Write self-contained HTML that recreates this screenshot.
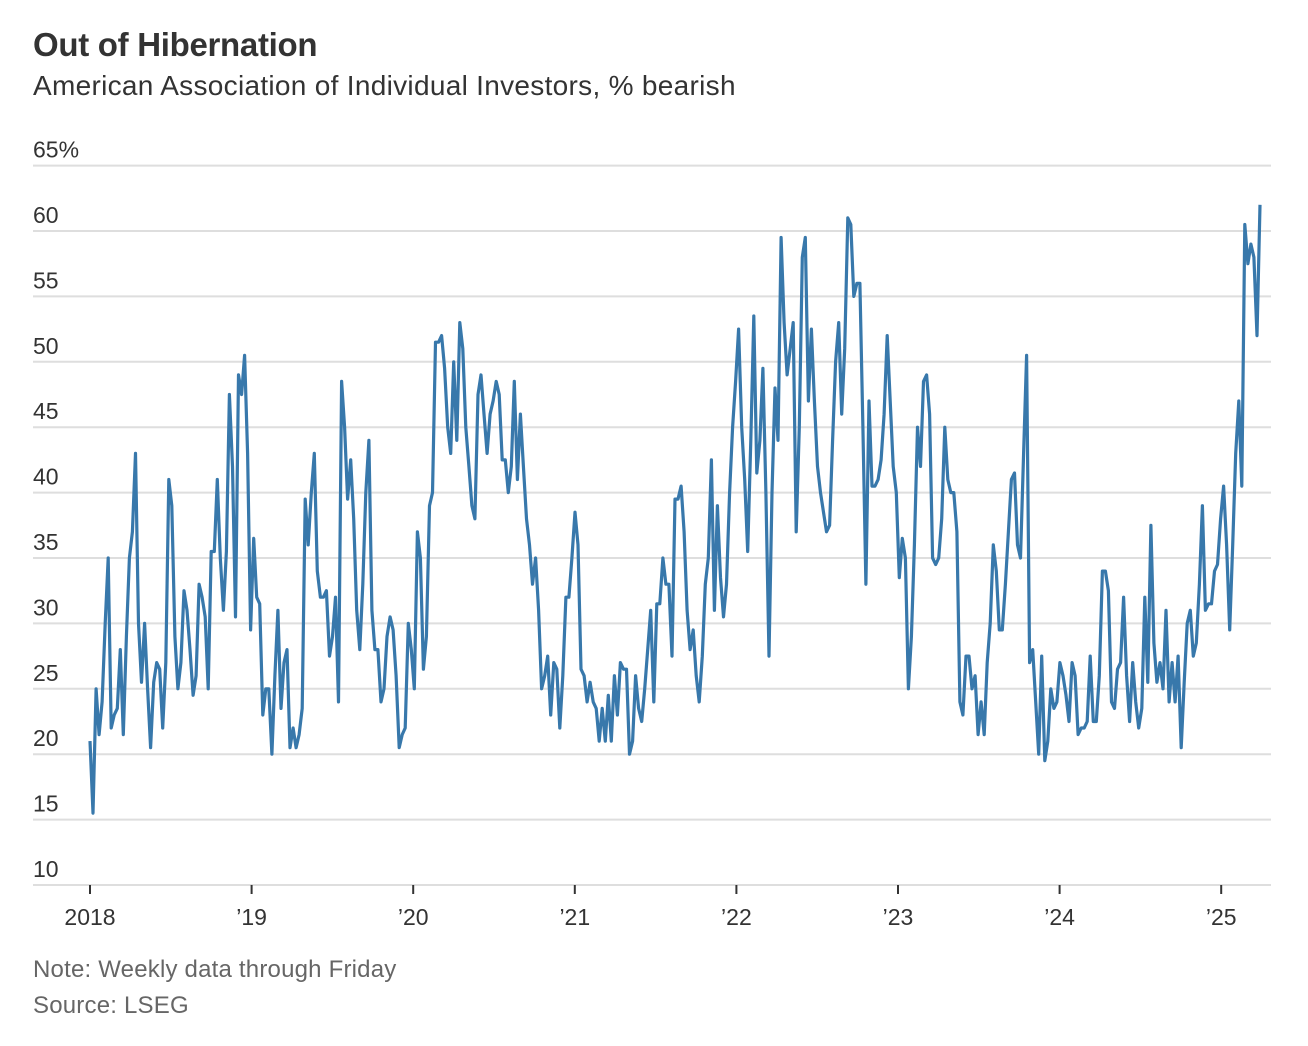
<!DOCTYPE html>
<html><head><meta charset="utf-8">
<style>
body{margin:0;background:#fff;font-family:"Liberation Sans",sans-serif;}
#wrap{position:relative;width:1308px;height:1046px;overflow:hidden;}
.t{position:absolute;left:33px;white-space:nowrap;}
</style></head><body>
<div id="wrap">
<div class="t" style="top:26px;font-size:33px;font-weight:bold;color:#333;letter-spacing:-0.3px;">Out of Hibernation</div>
<div class="t" style="top:70px;font-size:28px;color:#333;letter-spacing:0.3px;">American Association of Individual Investors, % bearish</div>
<svg id="chart" width="1308" height="950" style="position:absolute;left:0;top:0"></svg>
<div class="t" style="top:956px;font-size:24px;color:#666;letter-spacing:0.2px;">Note: Weekly data through Friday</div>
<div class="t" style="top:992px;font-size:24px;color:#666;letter-spacing:0.2px;">Source: LSEG</div>
</div>
<script>
const yTicks=[10,15,20,25,30,35,40,45,50,55,60,65];
const yTickLabels=["10","15","20","25","30","35","40","45","50","55","60","65%"];
const xTicks=[2018,2019,2020,2021,2022,2023,2024,2025];
const xTickLabels=["2018","\u201919","\u201920","\u201921","\u201922","\u201923","\u201924","\u201925"];
const startYear=2018.0, endYear=2025.24;
const values=[21,15.5,25,21.5,24,30,35,22,23,23.5,28,21.5,29,35,37,43,30,25.5,30,25,20.5,25.5,27,26.5,22,27,41,39,29,25,27,32.5,31,28,24.5,26,33,32,30.5,25,35.5,35.5,41,35,31,35.5,47.5,42,30.5,49,47.5,50.5,43,29.5,36.5,32,31.5,23,25,25,20,26,31,23.5,27,28,20.5,22,20.5,21.5,23.5,39.5,36,40,43,34,32,32,32.5,27.5,29,32,24,48.5,45,39.5,42.5,38,31,28,33,40,44,31,28,28,24,25,29,30.5,29.5,26,20.5,21.5,22,30,28,25,37,35,26.5,29,39,40,51.5,51.5,52,49.5,45,43,50,44,53,51,45,42,39,38,47.5,49,46,43,46,47,48.5,47.5,42.5,42.5,40,42,48.5,41,46,42,38,36,33,35,31,25,26,27.5,23,27,26.5,22,26,32,32,35,38.5,36,26.5,26,24,25.5,24,23.5,21,23.5,21,24.5,21,26,23,27,26.5,26.5,20,21,26,23.5,22.5,25,28,31,24,31.5,31.5,35,33,33,27.5,39.5,39.5,40.5,37,31,28,29.5,26,24,27.5,33,35,42.5,31,39,33.5,30.5,33,40,45,48.5,52.5,45,41,35.5,44,53.5,41.5,44,49.5,40,27.5,40,48,44,59.5,53,49,51,53,37,45,58,59.5,47,52.5,47,42,40,38.5,37,37.5,44,50,53,46,51,61,60.5,55,56,56,45,33,47,40.5,40.5,41,42.5,46,52,47,42,40,33.5,36.5,35,25,29,36,45,42,48.5,49,46,35,34.5,35,38,45,41,40,40,37,24,23,27.5,27.5,25,26,21.5,24,21.5,27,30,36,34,29.5,29.5,33,37,41,41.5,36,35,43,50.5,27,28,24,20,27.5,19.5,21,25,23.5,24,27,26,24.5,22.5,27,26,21.5,22,22,22.5,27.5,22.5,22.5,26,34,34,32.5,24,23.5,26.5,27,32,26,22.5,27,24,22,23.5,32,25.5,37.5,28.5,25.5,27,25,31,24,27,24,27.5,20.5,25.5,30,31,27.5,28.5,33,39,31,31.5,31.5,34,34.5,38,40.5,36,29.5,36,43,47,40.5,60.5,57.5,59,58,52,62];

const NS="http://www.w3.org/2000/svg";
const svg=document.getElementById('chart');
const x0=90, pxPerYear=161.6, yBase=885, pxPerUnit=65.4;
function xScale(yr){return x0+(yr-2018)*pxPerYear;}
function yScale(v){return yBase-(v-10)*pxPerUnit/5;}
function mk(tag,attrs){const e=document.createElementNS(NS,tag);for(const k in attrs)e.setAttribute(k,attrs[k]);svg.appendChild(e);return e;}

yTicks.forEach((v,i)=>{
  const y=yScale(v);
  const g=mk('line',{x1:33,x2:1271,y1:y,y2:y,stroke:'#dedede','stroke-width':2});
  
  
  const t=mk('text',{x:33,y:y-8,'font-size':23,fill:'#333','font-family':'Liberation Sans, sans-serif'});
  t.textContent=yTickLabels[i];
  
  
});
xTicks.forEach((yr,i)=>{
  const x=xScale(yr);
  const tk=mk('line',{x1:x,x2:x,y1:yBase,y2:yBase+9,stroke:'#333','stroke-width':2});
  
  
  const t=mk('text',{x:x,y:yBase+40,'font-size':23,fill:'#333','text-anchor':'middle','font-family':'Liberation Sans, sans-serif'});
  t.textContent=xTickLabels[i];
  
  
});
const n=values.length;
const pts=values.map((v,i)=>{const yr=startYear+(endYear-startYear)*i/(n-1);return xScale(yr).toFixed(1)+','+yScale(v).toFixed(1);});
const line=mk('polyline',{points:pts.join(' '),fill:'none',stroke:'#3878ab','stroke-width':3.2,'stroke-linejoin':'round'});


</script>
</body></html>
